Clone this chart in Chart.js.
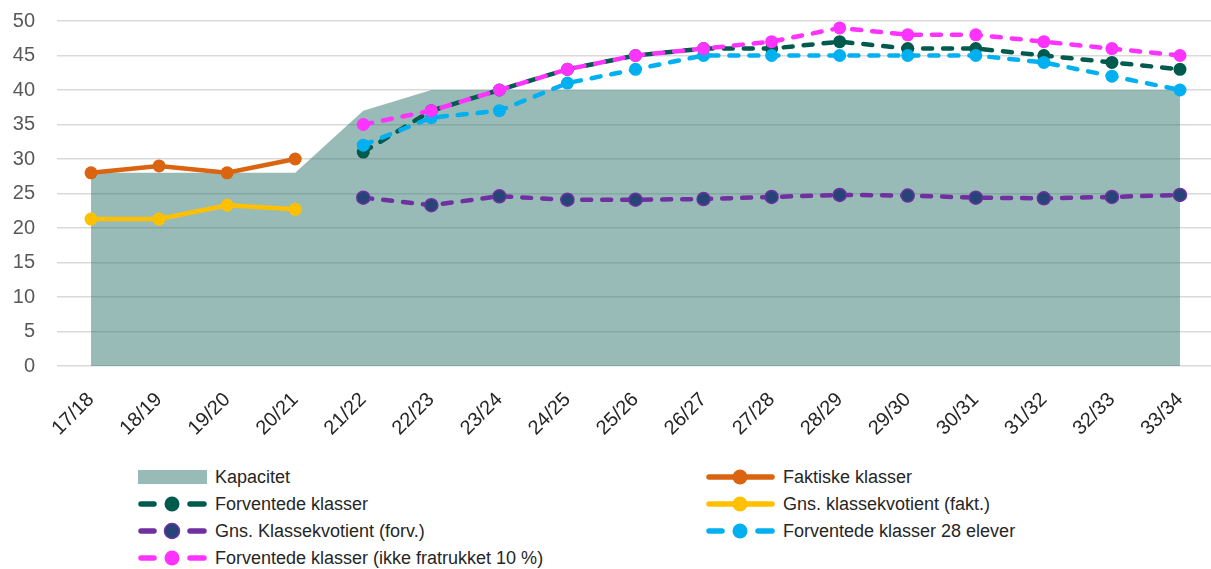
<!DOCTYPE html>
<html>
<head>
<meta charset="utf-8">
<script src="https://cdn.jsdelivr.net/npm/chart.js@4.4.1/dist/chart.umd.min.js"></script>
<style>
  body { margin: 0; background: #fff; width: 1211px; height: 569px; overflow: hidden; font-family: "Liberation Sans", Arial, sans-serif; }
  #wrap { position: absolute; left: 0; top: 0; width: 1222px; height: 455px; }
  .item { position: absolute; display: flex; align-items: center; font-size: 18px; color: #262626; white-space: nowrap; height: 20px; }
  .item svg { margin-right: 8px; }
</style>
</head>
<body>
<div id="wrap"><canvas id="chart"></canvas></div>
<div id="legend"></div>
<script>
var labels = ['17/18', '18/19', '19/20', '20/21', '21/22', '22/23', '23/24', '24/25', '25/26',
    '26/27', '27/28', '28/29', '29/30', '30/31', '31/32', '32/33', '33/34'];

var kapacitet = [28, 28, 28, 28, 37, 40, 40, 40, 40, 40, 40, 40, 40, 40, 40, 40, 40];
var faktiske = [28, 29, 28, 30, null, null, null, null, null, null, null, null, null, null, null, null, null];
var gnsFakt = [21.3, 21.3, 23.3, 22.7, null, null, null, null, null, null, null, null, null, null, null, null, null];
var forventede = [null, null, null, null, 31, 37, 40, 43, 45, 46, 46, 47, 46, 46, 45, 44, 43];
var gnsForv = [null, null, null, null, 24.4, 23.3, 24.6, 24.1, 24.1, 24.2, 24.5, 24.8, 24.7, 24.4, 24.3, 24.5, 24.8];
var forv28 = [null, null, null, null, 32, 36, 37, 41, 43, 45, 45, 45, 45, 45, 44, 42, 40];
var ikkeFratrukket = [null, null, null, null, 35, 37, 40, 43, 45, 46, 47, 49, 48, 48, 47, 46, 45];

var yTicks = [0, 5, 10, 15, 20, 25, 30, 35, 40, 45, 50];

var dash = [9, 11];

function lineSet(label, data, color, dashed, order, pointFill) {
    return {
        label: label,
        data: data,
        borderColor: color,
        backgroundColor: pointFill || color,
        pointBackgroundColor: pointFill || color,
        pointBorderColor: color,
        pointBorderWidth: pointFill ? 1.5 : 0,
        pointRadius: 6.5,
        borderWidth: 4.5,
        borderDash: dashed ? dash : [],
        borderCapStyle: 'round',
        fill: false,
        tension: 0,
        spanGaps: false,
        order: order,
        dashedLegend: dashed
    };
}

var datasets = [
    {
        label: 'Kapacitet',
        data: kapacitet,
        borderWidth: 0,
        pointRadius: 0,
        backgroundColor: 'rgba(51,119,113,0.5)',
        borderColor: 'rgba(0,0,0,0)',
        fill: 'origin',
        tension: 0,
        order: 10,
        isArea: true
    },
    lineSet('Faktiske klasser', faktiske, '#DA6410', false, 6),
    lineSet('Forventede klasser', forventede, '#005A4E', true, 4),
    lineSet('Gns. klassekvotient (fakt.)', gnsFakt, '#FFC000', false, 5),
    lineSet('Gns. Klassekvotient (forv.)', gnsForv, '#7030A0', true, 3, '#264478'),
    lineSet('Forventede klasser 28 elever', forv28, '#00B0F0', true, 2),
    lineSet('Forventede klasser (ikke fratrukket 10 %)', ikkeFratrukket, '#FF33FF', true, 1)
];

var ctx = document.getElementById('chart').getContext('2d');
var chart = new Chart(ctx, {
    type: 'line',
    data: { labels: labels, datasets: datasets },
    options: {
        responsive: true,
        maintainAspectRatio: false,
        animation: false,
        layout: { padding: 0 },
        plugins: {
            legend: { display: false },
            tooltip: { enabled: false }
        },
        scales: {
            x: {
                offset: true,
                grid: { display: false },
                border: { display: false },
                ticks: {
                    color: '#262626',
                    font: { size: 20, family: '"Liberation Sans", Arial, sans-serif' },
                    minRotation: 45,
                    maxRotation: 45,
                    padding: 14
                },
                afterFit: function (scale) {
                    scale.height = 89;
                    scale.paddingLeft = 0;
                    scale.paddingRight = 0;
                }
            },
            y: {
                min: 0,
                max: 50,
                afterBuildTicks: function (scale) {
                    scale.ticks = yTicks.map(function (v) { return { value: v }; });
                },
                grid: { color: '#d9d9d9', lineWidth: 1.5, drawTicks: false },
                border: { display: false },
                ticks: {
                    color: '#595959',
                    font: { size: 20, family: '"Liberation Sans", Arial, sans-serif' },
                    padding: 22
                },
                afterFit: function (scale) {
                    scale.width = 57;
                    scale.paddingTop = 21;
                }
            }
        }
    }
});

// legend in two columns, built from the datasets
var legend = document.getElementById('legend');
var colX = [138, 706];
var rowY = [467, 494, 521, 548];
datasets.forEach(function (ds, i) {
    var div = document.createElement('div');
    div.className = 'item';
    div.style.left = colX[i % 2] + 'px';
    div.style.top = rowY[Math.floor(i / 2)] + 'px';
    var svg;
    if (ds.isArea) {
        svg = '<svg width="69" height="20"><rect x="0" y="3" width="69" height="14" fill="#99BBB8"/></svg>';
    } else if (ds.dashedLegend) {
        svg = '<svg width="69" height="20">' +
            '<line x1="3" y1="10" x2="16" y2="10" stroke="' + ds.borderColor + '" stroke-width="5.5" stroke-linecap="round"/>' +
            '<line x1="52" y1="10" x2="66" y2="10" stroke="' + ds.borderColor + '" stroke-width="5.5" stroke-linecap="round"/>' +
            '<circle cx="34" cy="10" r="7.5" fill="' + ds.pointBackgroundColor + '" stroke="' + ds.borderColor + '" stroke-width="' + ds.pointBorderWidth + '"/></svg>';
    } else {
        svg = '<svg width="69" height="20">' +
            '<line x1="3" y1="10" x2="66" y2="10" stroke="' + ds.borderColor + '" stroke-width="5.5" stroke-linecap="round"/>' +
            '<circle cx="34" cy="10" r="7.5" fill="' + ds.borderColor + '"/></svg>';
    }
    div.innerHTML = svg + '<span>' + ds.label + '</span>';
    legend.appendChild(div);
});
</script>
</body>
</html>
